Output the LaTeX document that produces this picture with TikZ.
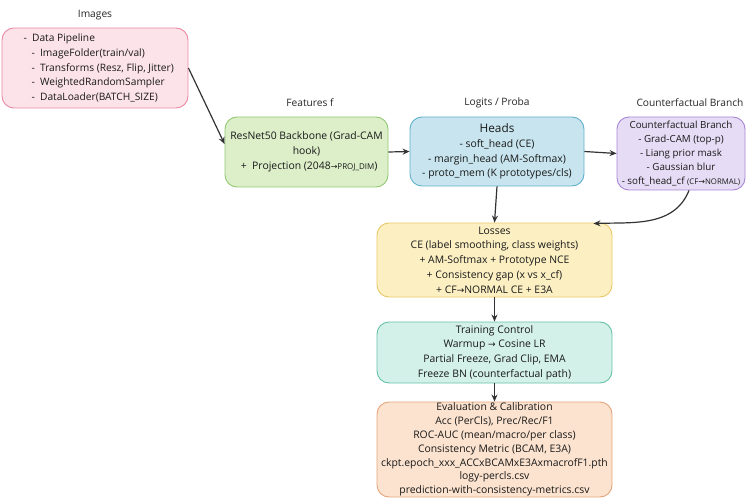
\documentclass[tikz,border=0pt]{standalone}
\usepackage{fontspec}
\setmainfont{Open Sans}
\newfontfamily\symf{DejaVu Sans}
\usetikzlibrary{arrows.meta,calc}
\definecolor{pinkF}{HTML}{FCE3EA}\definecolor{pinkD}{HTML}{E88AA5}
\definecolor{greenF}{HTML}{DCEFC9}\definecolor{greenD}{HTML}{92C873}
\definecolor{blueF}{HTML}{C8E5EF}\definecolor{blueD}{HTML}{5FB0CB}
\definecolor{purpF}{HTML}{E7DCF5}\definecolor{purpD}{HTML}{A687D4}
\definecolor{yelF}{HTML}{FCF0C3}\definecolor{yelD}{HTML}{E9C765}
\definecolor{tealF}{HTML}{D4F1E9}\definecolor{tealD}{HTML}{66C2A8}
\definecolor{orF}{HTML}{FCE3CF}\definecolor{orD}{HTML}{E3A57A}
\definecolor{lineC}{HTML}{333333}
\newcommand{\ar}{{\symf\fontsize{8}{9}\selectfont →}}
\tikzset{
  box/.style={draw, line width=0.9pt, rounded corners=12pt, inner sep=0pt, font=\fontsize{10.4}{14.8}\selectfont, align=center, text=black!90},
  lab/.style={font=\fontsize{10.2}{12}\selectfont, text=black!85},
  conn/.style={draw=lineC, line width=1.2pt, -{Stealth[length=7pt,width=6pt]}}
}
\begin{document}
\begin{tikzpicture}[x=1pt,y=-1pt]
\useasboundingbox (0,0) rectangle (750,500);
% boxes
\node[box, fill=pinkF, draw=pinkD, minimum width=186pt, minimum height=80pt] (img) at (95,68) {};
\node[anchor=west, font=\fontsize{10.2}{14.8}\selectfont, align=left, text=black!90] (imgtxt) at (20,68) {%
- \ Data Pipeline\\
\hspace{8pt}- \ ImageFolder(train/val)\\
\hspace{8pt}- \ Transforms (Resz, Flip, Jitter)\\
\hspace{8pt}- \ WeightedRandomSampler\\
\hspace{8pt}- \ DataLoader(BATCH\_SIZE)};
\node[box, fill=greenF, draw=greenD, minimum width=163pt, minimum height=70pt] (feat) at (306.5,152)
  {ResNet50 Backbone (Grad-CAM\\hook)\\\ \ + \ Projection (2048{\ar}{\fontsize{8}{9}\selectfont PROJ\_DIM})};
\node[box, fill=blueF, draw=blueD, minimum width=174pt, minimum height=69pt] (heads) at (497,151.5)
  {{\fontsize{11.8}{14}\selectfont Heads}\\- soft\_head (CE)\\- margin\_head (AM-Softmax)\\- proto\_mem (K prototypes/cls)};
\node[box, fill=purpF, draw=purpD, minimum width=128pt, minimum height=73pt, font=\fontsize{9.8}{13.8}\selectfont] (cf) at (681,153.5)
  {Counterfactual Branch\\- Grad-CAM (top-p)\\- Liang prior mask\\- Gaussian blur\\- soft\_head\_cf {\fontsize{7.8}{9}\selectfont(CF{\ar}NORMAL)}};
\node[box, fill=yelF, draw=yelD, minimum width=235pt, minimum height=74pt] (loss) at (494.5,260)
  {Losses\\CE (label smoothing, class weights)\\+ AM-Softmax + Prototype NCE\\+ Consistency gap (x vs x\_cf)\\+ CF{\symf\fontsize{9}{9}\selectfont →}NORMAL CE + E3A};
\node[box, fill=tealF, draw=tealD, minimum width=235pt, minimum height=61pt] (train) at (494.5,352.5)
  {Training Control\\Warmup {\symf\fontsize{9}{9}\selectfont →} Cosine LR\\Partial Freeze, Grad Clip, EMA\\Freeze BN (counterfactual path)};
\node[box, fill=orF, draw=orD, minimum width=235pt, minimum height=95pt, font=\fontsize{10.4}{13.8}\selectfont] (eval) at (494.5,449.5)
  {Evaluation \& Calibration\\Acc (PerCls), Prec/Rec/F1\\ROC-AUC (mean/macro/per class)\\Consistency Metric (BCAM, E3A)\\ckpt.epoch\_xxx\_ACCxBCAMxE3AxmacrofF1.pth\\logy-percls.csv\\prediction-with-consistency-metrics.csv};
% column labels
\node[lab] (limg) at (95,15) {Images};
\node[lab] (lfeat) at (310,103) {Features f};
\node[lab] (lheads) at (497,103) {Logits / Proba};
\node[lab] (lcf) at (690,103) {Counterfactual Branch};
% connectors
\draw[conn] (img.east) -- ($(feat.west)+(0,-8)$);
\draw[conn] (feat.east) -- (heads.west);
\draw[conn] (heads.east) -- (cf.west);
\draw[conn] (heads.south) -- (loss.north);
\draw[conn] ($(cf.south)+(8,0)$) to[out=-112,in=2] ($(loss.north east)+(-19,1)$);
\draw[conn] (loss.south) -- (train.north);
\draw[conn] (train.south) -- (eval.north);
\end{tikzpicture}
\end{document}
